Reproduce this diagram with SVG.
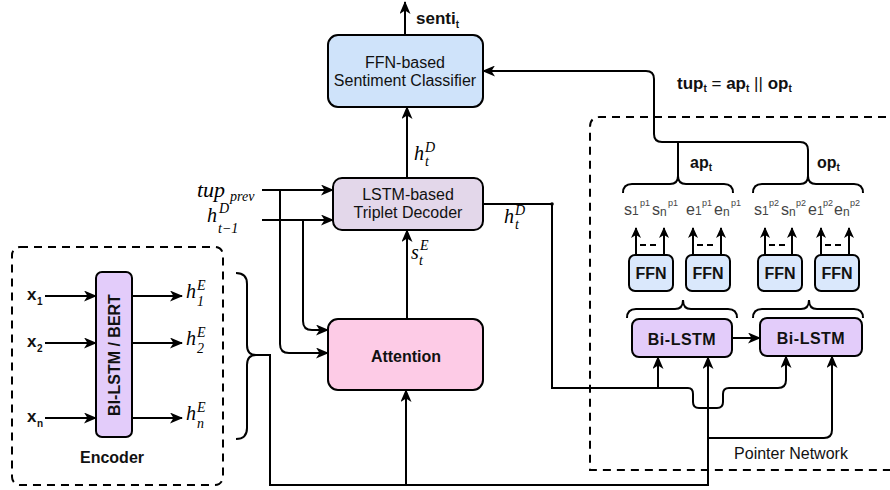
<svg xmlns="http://www.w3.org/2000/svg" width="890" height="490" viewBox="0 0 890 490">
<defs>
<marker id="arr" markerUnits="userSpaceOnUse" markerWidth="13" markerHeight="11" viewBox="0 0 13 11" refX="12" refY="5.5" orient="auto">
<path d="M0,0 L13,5.5 L0,11 L3.5,5.5 Z" fill="#000"/>
</marker>
<marker id="arrs" markerUnits="userSpaceOnUse" markerWidth="11" markerHeight="10" viewBox="0 0 11 10" refX="10" refY="5" orient="auto">
<path d="M0,0 L11,5 L0,10 L3,5 Z" fill="#000"/>
</marker>
</defs>
<style>
.ln{fill:none;stroke:#000;stroke-width:2}
.ar{marker-end:url(#arr)}
.as{marker-end:url(#arrs)}
.dash{fill:none;stroke:#000;stroke-width:2;stroke-dasharray:8 6}
.box{stroke:#000;stroke-width:2}
.sans{font-family:"Liberation Sans",Arial,sans-serif;fill:#111}
.lbl{font-size:16px;text-anchor:middle}
.b{font-weight:bold}
.m{font-family:"Liberation Serif","Times New Roman",serif;font-style:italic;fill:#000}
.mb{font-size:20px}
.ms{font-size:14px}
.se{font-family:"Liberation Sans",Arial,sans-serif;fill:#444}
.s1{font-size:16px}
.s2{font-size:12px}
.s3{font-size:9px}
</style>

<!-- dashed containers -->
<g id="encoder-group">
<rect x="12" y="247" width="211" height="238" rx="8" class="dash"/>
<text x="112" y="463" class="sans lbl b">Encoder</text>
</g>
<g id="pointer-network-group">
<path d="M900,117 L600,117 Q590,117 590,127 L590,470 L900,470" class="dash"/>
<text x="791" y="459" class="sans lbl" font-size="17">Pointer Network</text>
</g>

<!-- connectors -->
<g id="connectors">
<path d="M45,296 L96,296" class="ln ar"/>
<path d="M45,343 L96,343" class="ln ar"/>
<path d="M45,418 L96,418" class="ln ar"/>
<path d="M132,296 L182,296" class="ln ar"/>
<path d="M132,343 L182,343" class="ln ar"/>
<path d="M132,418 L182,418" class="ln ar"/>
<path d="M236,273 Q247,273 247,284 L247,345 Q247,355 256,355 Q247,355 247,365 L247,428 Q247,439 236,439" class="ln"/>
<path d="M252,355 L270,355 L270,485 L708,485 L708,357" class="ln ar"/>
<path d="M406,485 L406,390" class="ln ar"/>
<path d="M708,438 L824,438 Q832,438 832,430 L832,356" class="ln ar"/>
<path d="M262,190 L333,190" class="ln ar"/>
<path d="M262,220 L333,220" class="ln ar"/>
<path d="M280,190 L280,344 Q280,353 289,353 L328,353" class="ln ar"/>
<path d="M303,220 L303,321 Q303,330 312,330 L328,330" class="ln ar"/>
<path d="M407,319 L407,230" class="ln ar"/>
<path d="M407,178 L407,107" class="ln ar"/>
<path d="M405,35 L405,2" class="ln ar"/>
<path d="M483,204 L552,204 L552,388 L688,388 Q693,388 693,394 L693,402 Q693,408 699,408 L717,408 Q723,408 723,402 L723,394 Q723,388 729,388 L778,388 Q786,388 786,380 L786,356" class="ln ar"/>
<circle cx="552" cy="204" r="1.8" fill="#000"/>
<path d="M658,388 L658,357" class="ln ar"/>
<path d="M732,338 L760,338" class="ln ar"/>
<path d="M808,176 L808,150 Q808,142 800,142 L662,142 Q654,142 654,134 L654,79 Q654,71 646,71 L483,71" class="ln ar"/>
<path d="M678,142 L678,176" class="ln"/>
<path d="M623,193 Q623,184 632,184 L670,184 Q678,184 678,176 Q678,184 686,184 L724,184 Q733,184 733,193" class="ln"/>
<path d="M753,193 Q753,184 762,184 L800,184 Q808,184 808,176 Q808,184 816,184 L854,184 Q863,184 863,193" class="ln"/>
<path d="M627,318 Q627,309 636,309 L675,309 Q683,309 683,300 Q683,309 691,309 L728,309 Q737,309 737,318" class="ln"/>
<path d="M753,318 Q753,309 762,309 L801,309 Q809,309 809,300 Q809,309 817,309 L854,309 Q863,309 863,318" class="ln"/>
<path d="M636,255 L636,228" class="ln as"/>
<path d="M664,255 L664,228" class="ln as"/>
<path d="M693,255 L693,228" class="ln as"/>
<path d="M721,255 L721,228" class="ln as"/>
<path d="M765,255 L765,228" class="ln as"/>
<path d="M792,255 L792,228" class="ln as"/>
<path d="M821,255 L821,228" class="ln as"/>
<path d="M849,255 L849,228" class="ln as"/>
<path d="M640,245 L660,245 M697,245 L717,245 M769,245 L788,245 M825,245 L845,245" class="ln" stroke-dasharray="6 4"/>
</g>

<!-- nodes -->
<g id="classifier">
<rect x="328" y="35" width="155" height="72" rx="10" class="box" fill="#cfe3fa"/>
<text x="405" y="68" class="sans lbl">FFN-based</text>
<text x="405" y="86" class="sans lbl">Sentiment Classifier</text>
</g>
<g id="decoder">
<rect x="333" y="178" width="150" height="52" rx="9" class="box" fill="#e3d7ea"/>
<text x="408" y="200" class="sans lbl">LSTM-based</text>
<text x="408" y="218" class="sans lbl">Triplet Decoder</text>
</g>
<g id="attention">
<rect x="328" y="319" width="155" height="71" rx="10" class="box" fill="#fdcbe6"/>
<text x="406" y="362" class="sans lbl b">Attention</text>
</g>
<g id="bilstm-bert">
<rect x="96" y="272" width="36" height="165" rx="6" class="box" fill="#e3ccfa"/>
<text x="0" y="0" transform="translate(120,355) rotate(-90)" class="sans lbl b" font-size="17">BI-LSTM / BERT</text>
</g>
<g id="bilstm1">
<rect x="632" y="319" width="100" height="38" rx="7" class="box" fill="#e3ccfa"/>
<text x="682" y="345" class="sans lbl b" letter-spacing="0.5">Bi-LSTM</text>
</g>
<g id="bilstm2">
<rect x="760" y="318" width="102" height="38" rx="7" class="box" fill="#e3ccfa"/>
<text x="811" y="344" class="sans lbl b" letter-spacing="0.5">Bi-LSTM</text>
</g>
<g id="ffn1">
<rect x="629" y="255" width="44" height="36" rx="6" class="box" fill="#dae8fc"/>
<text x="651" y="279" class="sans lbl b" font-size="15">FFN</text>
</g>
<g id="ffn2">
<rect x="686" y="255" width="44" height="36" rx="6" class="box" fill="#dae8fc"/>
<text x="708" y="279" class="sans lbl b" font-size="15">FFN</text>
</g>
<g id="ffn3">
<rect x="758" y="255" width="44" height="36" rx="6" class="box" fill="#dae8fc"/>
<text x="780" y="279" class="sans lbl b" font-size="15">FFN</text>
</g>
<g id="ffn4">
<rect x="815" y="255" width="44" height="36" rx="6" class="box" fill="#dae8fc"/>
<text x="837" y="279" class="sans lbl b" font-size="15">FFN</text>
</g>

<!-- labels -->
<g id="labels">
<text x="416" y="24" class="sans b" font-size="17">senti<tspan font-size="10" dy="4">t</tspan></text>
<text x="677" y="89" class="sans b" font-size="17">tup<tspan font-size="10" dy="3">t</tspan><tspan dy="-3" font-weight="normal"> = </tspan><tspan dy="0">ap</tspan><tspan font-size="10" dy="3">t</tspan><tspan dy="-3" font-weight="normal"> || </tspan><tspan dy="0">op</tspan><tspan font-size="10" dy="3">t</tspan></text>
<text x="690" y="168" class="sans b" font-size="16">ap<tspan font-size="10" dy="3">t</tspan></text>
<text x="817" y="168" class="sans b" font-size="16">op<tspan font-size="10" dy="3">t</tspan></text>

<text class="se">
<tspan class="s1" x="624" y="215">s</tspan><tspan class="s2" x="632" y="215">1</tspan><tspan class="s3" x="640" y="206">p1</tspan>
<tspan class="s1" x="652" y="215">s</tspan><tspan class="s2" x="660" y="216">n</tspan><tspan class="s3" x="668" y="206">p1</tspan>
<tspan class="s1" x="686" y="215">e</tspan><tspan class="s2" x="695" y="215">1</tspan><tspan class="s3" x="702" y="206">p1</tspan>
<tspan class="s1" x="714" y="215">e</tspan><tspan class="s2" x="723" y="216">n</tspan><tspan class="s3" x="731" y="206">p1</tspan>
</text>
<text class="se">
<tspan class="s1" x="754" y="215">s</tspan><tspan class="s2" x="762" y="215">1</tspan><tspan class="s3" x="769" y="206">p2</tspan>
<tspan class="s1" x="781" y="215">s</tspan><tspan class="s2" x="789" y="216">n</tspan><tspan class="s3" x="796" y="206">p2</tspan>
<tspan class="s1" x="808" y="215">e</tspan><tspan class="s2" x="817" y="215">1</tspan><tspan class="s3" x="823" y="206">p2</tspan>
<tspan class="s1" x="834" y="215">e</tspan><tspan class="s2" x="843" y="216">n</tspan><tspan class="s3" x="850" y="206">p2</tspan>
</text>

<text class="sans b" font-size="17" x="27" y="300">x<tspan font-size="10" x="37" y="305">1</tspan></text>
<text class="sans b" font-size="17" x="27" y="347">x<tspan font-size="10" x="37" y="352">2</tspan></text>
<text class="sans b" font-size="17" x="27" y="422">x<tspan font-size="10" x="37" y="427">n</tspan></text>

<text class="m mb" x="186" y="298">h<tspan class="ms" x="197" y="290">E</tspan><tspan class="ms" x="197" y="306">1</tspan></text>
<text class="m mb" x="186" y="345">h<tspan class="ms" x="197" y="337">E</tspan><tspan class="ms" x="197" y="353">2</tspan></text>
<text class="m mb" x="186" y="420">h<tspan class="ms" x="197" y="412">E</tspan><tspan class="ms" x="197" y="428">n</tspan></text>

<text class="m" font-size="22" x="197" y="197">tup<tspan class="ms" x="230" y="201">prev</tspan></text>
<text class="m mb" x="207" y="222">h<tspan class="ms" x="219" y="213">D</tspan><tspan class="ms" x="218" y="233">t−1</tspan></text>

<text class="m mb" x="414" y="160">h<tspan class="ms" x="425" y="152">D</tspan><tspan class="ms" x="425" y="166">t</tspan></text>
<text class="m mb" x="411" y="259">s<tspan class="ms" x="420" y="250">E</tspan><tspan class="ms" x="419" y="265">t</tspan></text>
<text class="m mb" x="504" y="223">h<tspan class="ms" x="515" y="215">D</tspan><tspan class="ms" x="515" y="229">t</tspan></text>
</g>
</svg>
